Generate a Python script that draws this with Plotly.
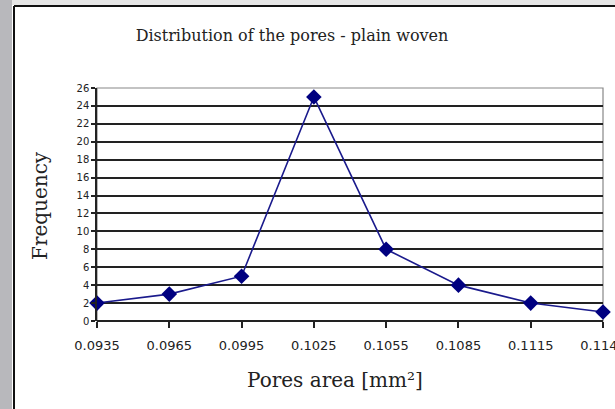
import plotly.graph_objects as go

pore_area = ["0.0935", "0.0965", "0.0995", "0.1025", "0.1055", "0.1085", "0.1115", "0.1145"]
frequency = [2, 3, 5, 25, 8, 4, 2, 1]
y_ticks = list(range(0, 27, 2))

W, H = 615, 409
L, R, T, B = 97, 12, 88, 88
pw, ph = W - L - R, H - T - B

def px(x):
    return (x - L) / pw

def py(y):
    return (H - B - y) / ph

fig = go.Figure()
fig.add_trace(go.Scatter(
    x=pore_area, y=frequency, mode="lines+markers",
    line=dict(color="#1a1a8c", width=1.6),
    marker=dict(symbol="diamond", size=12, color="#000080"),
    cliponaxis=False, showlegend=False,
))

fig.update_layout(
    width=W, height=H,
    margin=dict(l=L, r=R, t=T, b=B, autoexpand=False),
    paper_bgcolor="white", plot_bgcolor="white",
    title=dict(text="Distribution of the pores - plain woven",
               x=292 / W, xanchor="center", y=1 - 35 / H, yanchor="middle",
               font=dict(family="DejaVu Serif", size=16, color="#222")),
    xaxis=dict(type="category", range=[0, 7], showgrid=False, automargin=False,
               ticks="outside", ticklen=6, tickcolor="#222", tickwidth=1.5,
               showline=False, ticklabelstandoff=6,
               tickfont=dict(family="DejaVu Sans", size=13, color="#222")),
    yaxis=dict(range=[0, 26], tickvals=y_ticks, showgrid=True, automargin=False,
               gridcolor="#222", gridwidth=1.6,
               ticks="outside", ticklen=4, tickcolor="#222", tickwidth=1.5,
               showline=True, linecolor="#222", linewidth=1.5,
               zeroline=True, zerolinecolor="#222", zerolinewidth=1.6,
               tickfont=dict(family="DejaVu Sans", size=10, color="#222")),
    annotations=[
        dict(text="Pores area [mm²]", xref="paper", yref="paper",
             x=px(335), y=py(380), xanchor="center", yanchor="middle",
             showarrow=False,
             font=dict(family="DejaVu Serif", size=20, color="#222")),
        dict(text="Frequency", xref="paper", yref="paper", textangle=-90,
             x=px(40), y=py(206), xanchor="center", yanchor="middle",
             showarrow=False,
             font=dict(family="DejaVu Serif", size=20, color="#222")),
    ],
    shapes=[
        dict(type="rect", xref="paper", yref="paper", x0=0, y0=0, x1=1, y1=1,
             line=dict(color="#888", width=1.2), layer="below"),
        dict(type="rect", xref="paper", yref="paper", x0=px(0), x1=px(12), y0=py(H), y1=py(0),
             fillcolor="#b8b8bc", line=dict(width=0), layer="below"),
        dict(type="rect", xref="paper", yref="paper", x0=px(12), x1=px(W), y0=py(5), y1=py(0),
             fillcolor="#e6e6e6", line=dict(width=0), layer="below"),
        dict(type="line", xref="paper", yref="paper", x0=px(14), x1=px(14), y0=py(H), y1=py(6),
             line=dict(color="#111", width=2)),
        dict(type="line", xref="paper", yref="paper", x0=px(14), x1=px(W), y0=py(6), y1=py(6),
             line=dict(color="#111", width=2)),
    ],
)

fig.write_html("out.html", config={"displayModeBar": False},
               post_script="document.body.style.margin='0';document.body.style.overflow='hidden';")
